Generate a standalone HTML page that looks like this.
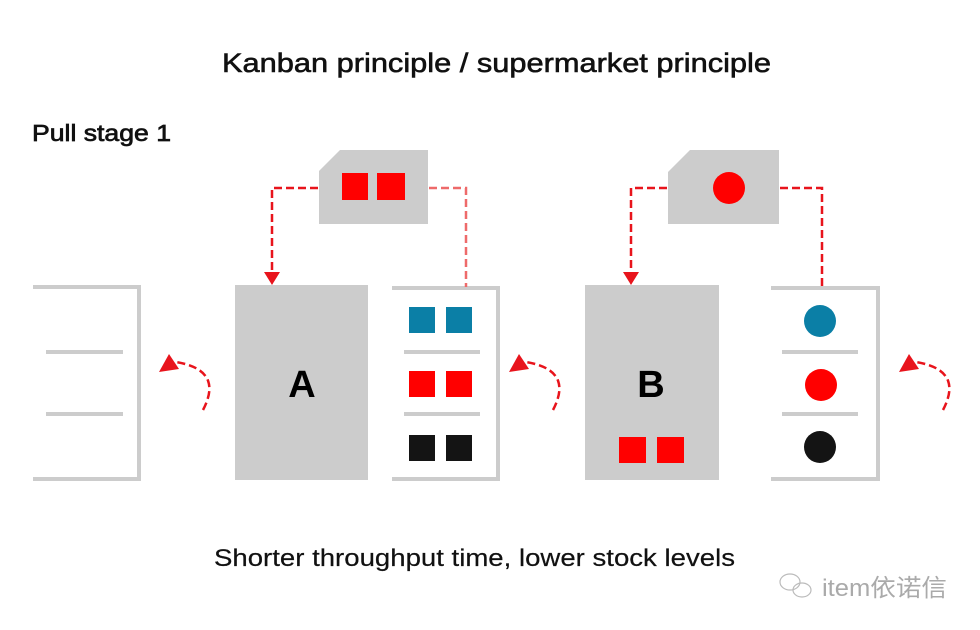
<!DOCTYPE html>
<html><head><meta charset="utf-8"><style>html,body{margin:0;padding:0;background:#fff}svg{display:block}</style></head>
<body>
<svg width="980" height="630" viewBox="0 0 980 630" xmlns="http://www.w3.org/2000/svg" font-family="Liberation Sans, sans-serif">
<rect width="980" height="630" fill="#fff"/>
<text x="222" y="72" font-size="27" fill="#111" stroke="#111" stroke-width="0.6" textLength="549" lengthAdjust="spacingAndGlyphs">Kanban principle / supermarket principle</text>
<text x="32" y="141" font-size="23" fill="#111" stroke="#111" stroke-width="0.7" textLength="139" lengthAdjust="spacingAndGlyphs">Pull stage 1</text>
<text x="214" y="566" font-size="24" fill="#111" stroke="#111" stroke-width="0.2" textLength="521" lengthAdjust="spacingAndGlyphs">Shorter throughput time, lower stock levels</text>

<g fill="#cccccc">
<rect x="33" y="285" width="108" height="4"/><rect x="137" y="285" width="4" height="196"/><rect x="33" y="477" width="108" height="4"/>
<rect x="46" y="350" width="77" height="4"/><rect x="46" y="412" width="77" height="4"/>
<rect x="392" y="286" width="108" height="4"/><rect x="496" y="286" width="4" height="195"/><rect x="392" y="477" width="108" height="4"/>
<rect x="404" y="350" width="76" height="4"/><rect x="404" y="412" width="76" height="4"/>
<rect x="771" y="286" width="109" height="4"/><rect x="876" y="286" width="4" height="195"/><rect x="771" y="477" width="109" height="4"/>
<rect x="782" y="350" width="76" height="4"/><rect x="782" y="412" width="76" height="4"/>
<rect x="235" y="285" width="133" height="195"/>
<rect x="585" y="285" width="134" height="195"/>
<polygon points="319,171 340,150 428,150 428,224 319,224"/>
<polygon points="668,172 690,150 779,150 779,224 668,224"/>
</g>
<text x="302" y="397" font-size="38" font-weight="bold" text-anchor="middle" fill="#000">A</text>
<text x="651" y="397" font-size="38" font-weight="bold" text-anchor="middle" fill="#000">B</text>

<g fill="#ff0000">
<rect x="342" y="173" width="26" height="27"/><rect x="377" y="173" width="28" height="27"/>
<circle cx="729" cy="188" r="16"/>
<rect x="409" y="371" width="26" height="26"/><rect x="446" y="371" width="26" height="26"/>
<rect x="619" y="437" width="27" height="26"/><rect x="657" y="437" width="27" height="26"/>
<circle cx="821" cy="385" r="16"/>
</g>
<g fill="#0b7fa6">
<rect x="409" y="307" width="26" height="26"/><rect x="446" y="307" width="26" height="26"/>
<circle cx="820" cy="321" r="16"/>
</g>
<g fill="#141414">
<rect x="409" y="435" width="26" height="26"/><rect x="446" y="435" width="26" height="26"/>
<circle cx="820" cy="447" r="16"/>
</g>

<g fill="none" stroke="#e8141c" stroke-width="2.5" stroke-dasharray="8,4">
<polyline points="318,188 272,188 272,274"/>
<polyline points="429,188 466,188 466,287" stroke="#ee6a6a"/>
<polyline points="667,188 631,188 631,274"/>
<polyline points="780,188 822,188 822,287"/>
<path d="M203,410 Q224,370 176,362"/>
<path d="M553,410 Q574,370 526,362"/>
<path d="M943,410 Q964,370 916,362"/>
</g>
<g fill="#e8141c">
<polygon points="264,272 280,272 272,285"/>
<polygon points="623,272 639,272 631,285"/>
<polygon points="159,372 169,354 179,369"/>
<polygon points="509,372 519,354 529,369"/>
<polygon points="899,372 909,354 919,369"/>
</g>

<g stroke="#bbb" fill="none" stroke-width="1.2">
<ellipse cx="790" cy="582" rx="10" ry="8"/><ellipse cx="802" cy="590" rx="9" ry="7"/>
</g>
<text x="822" y="596" font-size="24" fill="#aaa" textLength="125" lengthAdjust="spacingAndGlyphs" font-family="Liberation Sans, Noto Sans CJK SC, sans-serif">item依诺信</text>
</svg>
</body></html>
